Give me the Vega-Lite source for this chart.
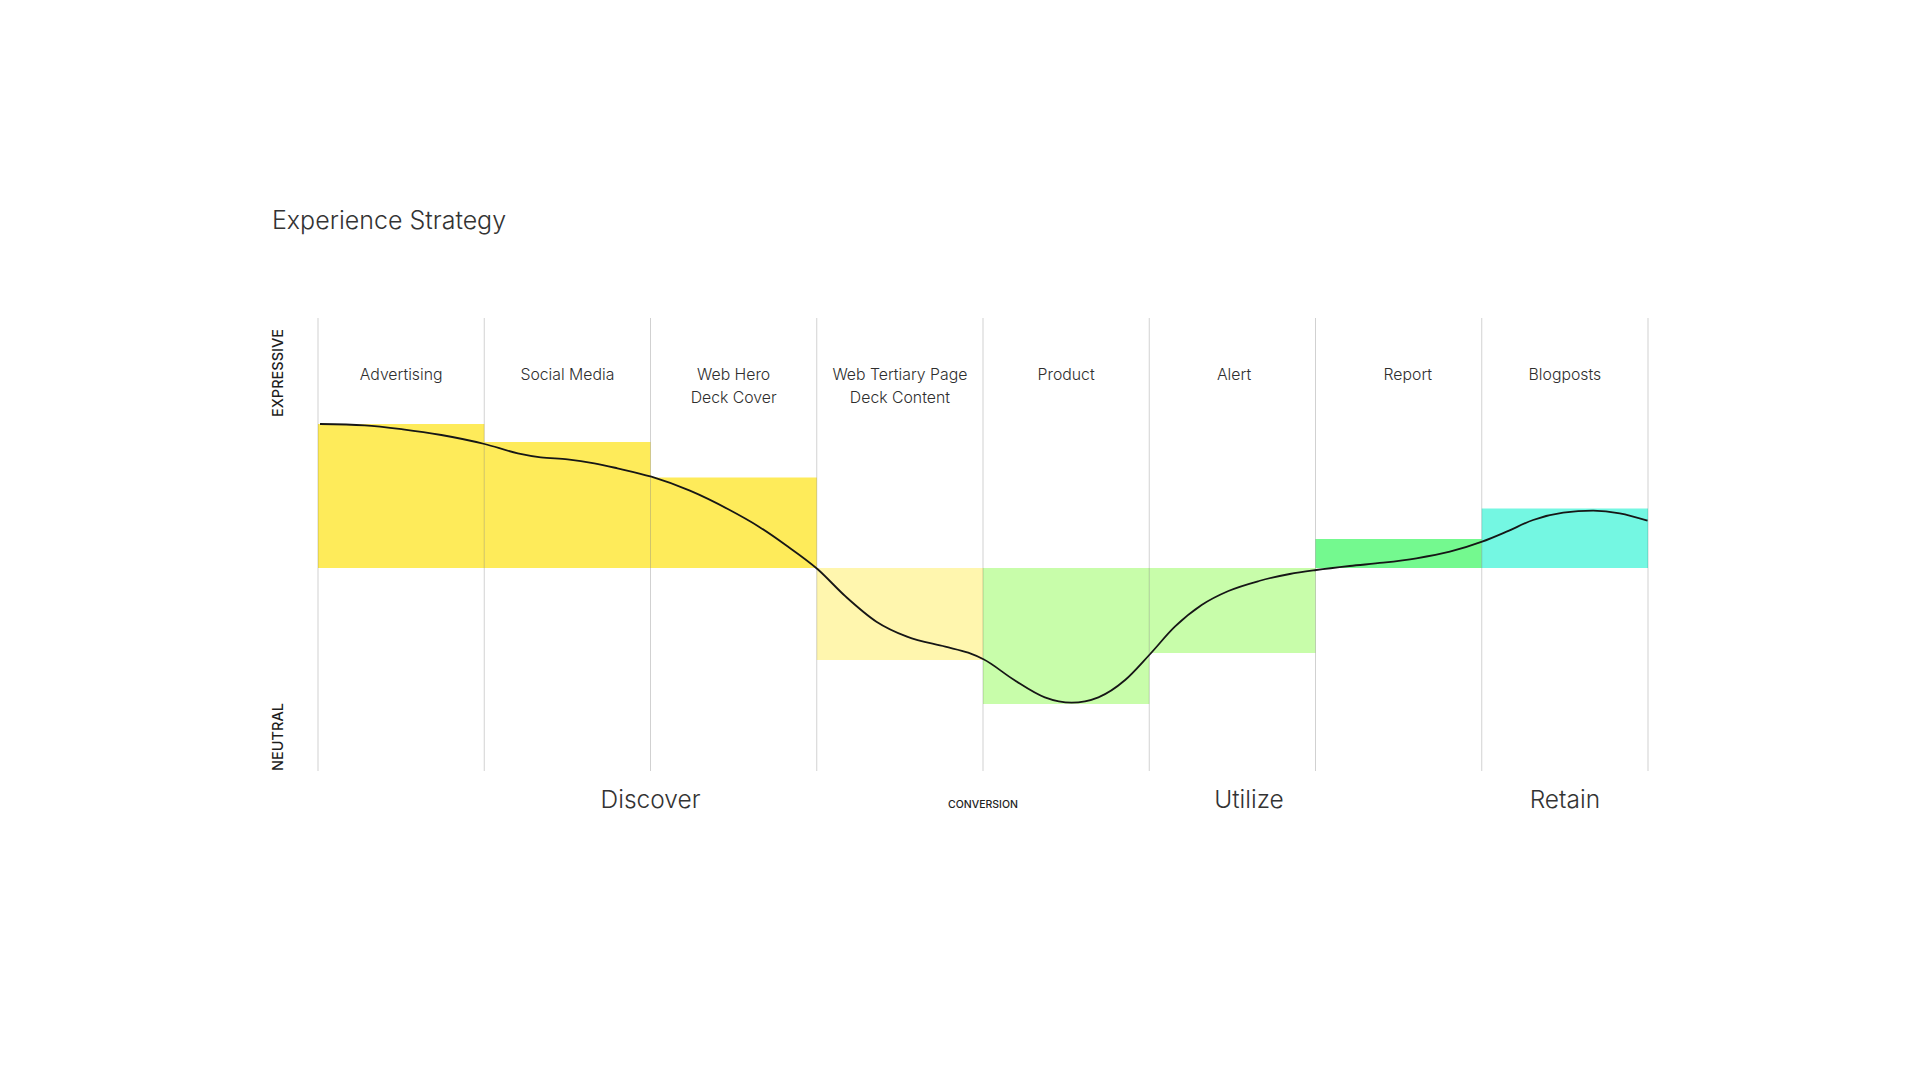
{
  "$schema": "https://vega.github.io/schema/vega-lite/v6.json",
  "width": 1330,
  "height": 453,
  "autosize": {"type": "none"},
  "padding": {"left": 318, "top": 318, "right": 272, "bottom": 309},
  "background": "white",
  "config": {"view": {"stroke": null}, "font": "Inter", "text": {"font": "Inter"}},
  "datasets": {
    "columns": [
      {"label": "Advertising", "start": 0, "mid": 0.5, "end": 1, "level": 1.44, "register": "Expressive"},
      {"label": "Social Media", "start": 1, "mid": 1.5, "end": 2, "level": 1.26, "register": "Expressive"},
      {"label": "Web Hero\nDeck Cover", "start": 2, "mid": 2.5, "end": 3, "level": 0.905, "register": "Expressive"},
      {"label": "Web Tertiary Page\nDeck Content", "start": 3, "mid": 3.5, "end": 4, "level": -0.92, "register": "Subdued"},
      {"label": "Product", "start": 4, "mid": 4.5, "end": 5, "level": -1.36, "register": "Functional"},
      {"label": "Alert", "start": 5, "mid": 5.51, "end": 6, "level": -0.85, "register": "Functional"},
      {"label": "Report", "start": 6, "mid": 6.555, "end": 7, "level": 0.29, "register": "Informative"},
      {"label": "Blogposts", "start": 7, "mid": 7.5, "end": 8, "level": 0.595, "register": "Editorial"}
    ],
    "dividers": [{"b": 0}, {"b": 1}, {"b": 2}, {"b": 3}, {"b": 4}, {"b": 5}, {"b": 6}, {"b": 7}, {"b": 8}],
    "curve": [
      {"t": 0.012, "v": 1.44}, {"t": 0.281, "v": 1.427}, {"t": 0.511, "v": 1.387}, {"t": 0.742, "v": 1.33},
      {"t": 1.002, "v": 1.24}, {"t": 1.202, "v": 1.147}, {"t": 1.34, "v": 1.107}, {"t": 1.501, "v": 1.087},
      {"t": 1.662, "v": 1.047}, {"t": 1.801, "v": 0.997}, {"t": 2.005, "v": 0.913}, {"t": 2.237, "v": 0.773},
      {"t": 2.468, "v": 0.587}, {"t": 2.652, "v": 0.413}, {"t": 2.813, "v": 0.23}, {"t": 3.004, "v": -0.01},
      {"t": 3.175, "v": -0.287}, {"t": 3.359, "v": -0.537}, {"t": 3.543, "v": -0.687}, {"t": 3.773, "v": -0.787},
      {"t": 3.911, "v": -0.847}, {"t": 4.003, "v": -0.913}, {"t": 4.188, "v": -1.12}, {"t": 4.372, "v": -1.293},
      {"t": 4.533, "v": -1.347}, {"t": 4.694, "v": -1.293}, {"t": 4.855, "v": -1.12}, {"t": 5.0, "v": -0.87},
      {"t": 5.154, "v": -0.587}, {"t": 5.315, "v": -0.37}, {"t": 5.476, "v": -0.23}, {"t": 5.66, "v": -0.13},
      {"t": 5.845, "v": -0.06}, {"t": 6.004, "v": -0.02}, {"t": 6.206, "v": 0.02}, {"t": 6.407, "v": 0.053},
      {"t": 6.607, "v": 0.097}, {"t": 6.808, "v": 0.163}, {"t": 7.002, "v": 0.263}, {"t": 7.149, "v": 0.363},
      {"t": 7.309, "v": 0.48}, {"t": 7.49, "v": 0.553}, {"t": 7.67, "v": 0.573}, {"t": 7.83, "v": 0.547},
      {"t": 7.997, "v": 0.473}
    ],
    "phases": [
      {"phase": "Discover", "at": 2},
      {"phase": "Utilize", "at": 5.6},
      {"phase": "Retain", "at": 7.5}
    ],
    "markers": [{"marker": "CONVERSION", "at": 4}],
    "sides": [
      {"side": "EXPRESSIVE", "at": 1.95},
      {"side": "NEUTRAL", "at": -1.69}
    ],
    "heading": [{"title": "Experience Strategy"}]
  },
  "layer": [
    {
      "data": {"name": "columns"},
      "mark": {"type": "rect"},
      "encoding": {
        "x": {"field": "start", "type": "quantitative", "scale": {"domain": [0, 8], "nice": false, "zero": false}, "axis": null},
        "x2": {"field": "end"},
        "y": {"field": "level", "type": "quantitative", "scale": {"domain": [-2.03, 2.5], "nice": false, "zero": false}, "axis": null},
        "y2": {"datum": 0},
        "color": {
          "field": "register", "type": "nominal", "legend": null,
          "scale": {
            "domain": ["Expressive", "Subdued", "Functional", "Informative", "Editorial"],
            "range": ["#FEEB5A", "#FFF6AE", "#C8FDAA", "#74F98F", "#74F7E2"]
          }
        }
      }
    },
    {
      "data": {"name": "dividers"},
      "mark": {"type": "rule", "stroke": "#000000", "strokeOpacity": 0.18, "strokeWidth": 1},
      "encoding": {
        "x": {"field": "b", "type": "quantitative"},
        "y": {"datum": -2.03},
        "y2": {"datum": 2.5}
      }
    },
    {
      "data": {"name": "curve"},
      "mark": {"type": "line", "interpolate": "monotone", "stroke": "#161616", "strokeWidth": 1.8},
      "encoding": {
        "x": {"field": "t", "type": "quantitative"},
        "y": {"field": "v", "type": "quantitative"}
      }
    },
    {
      "data": {"name": "columns"},
      "mark": {"type": "text", "fontSize": 15.8, "fontWeight": 300, "align": "center", "baseline": "alphabetic", "lineBreak": "\n", "lineHeight": 23, "color": "#2e2e2e"},
      "encoding": {
        "x": {"field": "mid", "type": "quantitative"},
        "y": {"datum": 1.885},
        "text": {"field": "label"}
      }
    },
    {
      "data": {"name": "phases"},
      "mark": {"type": "text", "fontSize": 24.5, "fontWeight": 300, "align": "center", "baseline": "alphabetic", "color": "#333333"},
      "encoding": {
        "x": {"field": "at", "type": "quantitative"},
        "y": {"datum": -2.395},
        "text": {"field": "phase"}
      }
    },
    {
      "data": {"name": "markers"},
      "mark": {"type": "text", "fontSize": 10.5, "fontWeight": 500, "align": "center", "baseline": "alphabetic", "color": "#222222"},
      "encoding": {
        "x": {"field": "at", "type": "quantitative"},
        "y": {"datum": -2.395},
        "text": {"field": "marker"}
      }
    },
    {
      "data": {"name": "sides"},
      "mark": {"type": "text", "fontSize": 14.5, "fontWeight": 500, "angle": 270, "align": "center", "baseline": "middle", "color": "#1e1e1e"},
      "encoding": {
        "x": {"datum": -0.235},
        "y": {"field": "at", "type": "quantitative"},
        "text": {"field": "side"}
      }
    },
    {
      "data": {"name": "heading"},
      "mark": {"type": "text", "fontSize": 25, "fontWeight": 300, "align": "left", "baseline": "alphabetic", "color": "#333333"},
      "encoding": {
        "x": {"datum": -0.277},
        "y": {"datum": 3.387},
        "text": {"field": "title"}
      }
    }
  ]
}
